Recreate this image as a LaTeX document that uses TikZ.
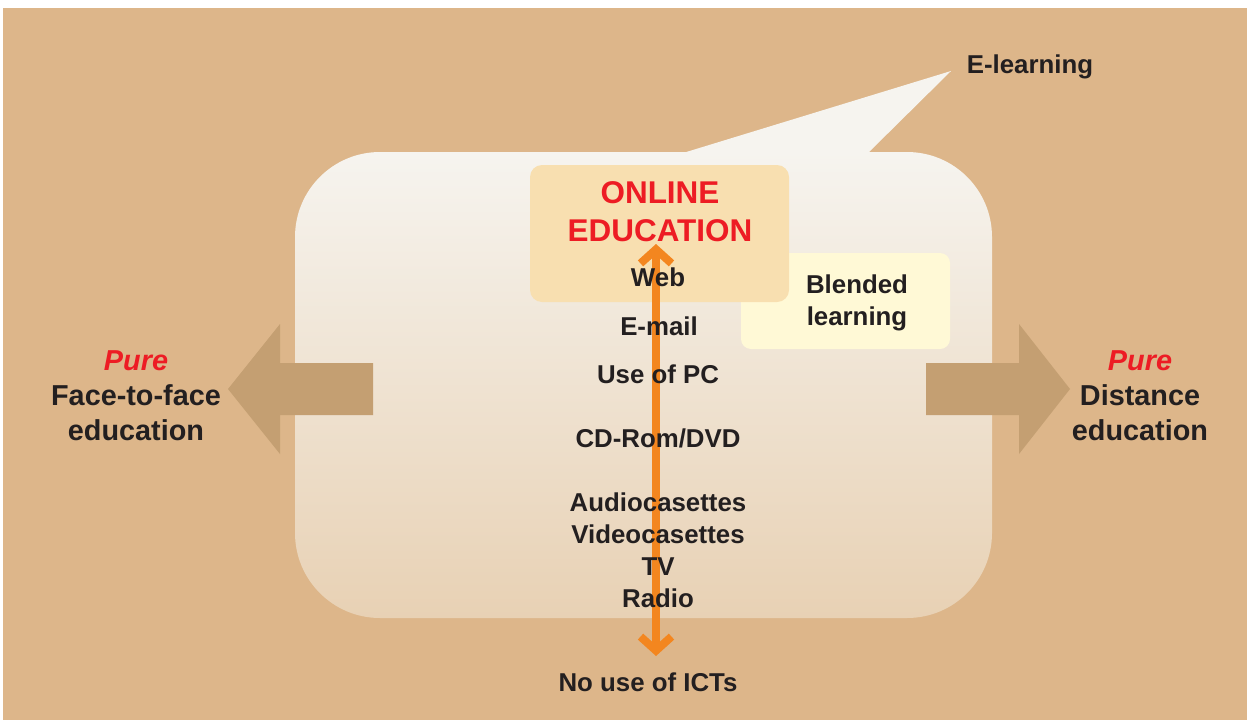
\documentclass[tikz,border=0pt]{standalone}
\usepackage{fontspec}
\setmainfont{Liberation Sans}
\usepackage{tikz}
\usetikzlibrary{arrows.meta}
\definecolor{tanbg}{HTML}{DDB68A}
\definecolor{bubtop}{HTML}{F6F4EF}
\definecolor{bubbot}{HTML}{E8D1B4}
\definecolor{onlinefill}{HTML}{F8DFB0}
\definecolor{blendfill}{HTML}{FFF9D6}
\definecolor{sidearrow}{HTML}{C49F72}
\definecolor{ictorange}{HTML}{F3861F}
\definecolor{redtxt}{HTML}{ED1C24}
\definecolor{ink}{HTML}{231F20}

\begin{document}
\begin{tikzpicture}[x=0.02cm,y=-0.02cm,
    txt/.style={anchor=base,inner sep=0pt,text=ink,font=\fontsize{14.7}{17}\selectfont\bfseries},
    sidetxt/.style={txt,font=\fontsize{16.4}{19}\selectfont\bfseries},
    puretxt/.style={txt,text=redtxt,font=\fontsize{16.4}{19}\selectfont\bfseries\itshape},
    titletxt/.style={txt,text=redtxt,font=\fontsize{17.9}{21}\selectfont\bfseries},
    ictline/.style={line width=0.16cm,ictorange,
        {Straight Barb[length=0.28cm,width=0.62cm]}-{Straight Barb[length=0.28cm,width=0.62cm]}}]
        \pgfmathsetmacro{\ay}{389}
        \pgfmathsetmacro{\bh}{26}
        \pgfmathsetmacro{\hh}{65}
        \fill[white] (0,0) rectangle (1247,720);
        \fill[tanbg] (3,8) rectangle (1247,720);
        \useasboundingbox (0,0) rectangle (1247,720);
        \coordinate (T1) at (683,153);
        \coordinate (T2) at (951,71);
        \coordinate (T3) at (868,153);
        \fill[bubtop] (T1) -- (T2) -- (T3) -- cycle;
        \shade[top color=bubtop, bottom color=bubbot, rounded corners=1.7cm]
            (295,152) rectangle (992,618);
        \fill[blendfill, rounded corners=0.2cm] (741,253) rectangle (950,349);
        \fill[onlinefill, rounded corners=0.24cm] (530,165) rectangle (789,302);
        \fill[sidearrow] (373,\ay-\bh) -- (280,\ay-\bh) -- (280,\ay-\hh) -- (228,\ay)
            -- (280,\ay+\hh) -- (280,\ay+\bh) -- (373,\ay+\bh) -- cycle;
        \fill[sidearrow] (926,\ay-\bh) -- (1019,\ay-\bh) -- (1019,\ay-\hh) -- (1070,\ay)
            -- (1019,\ay+\hh) -- (1019,\ay+\bh) -- (926,\ay+\bh) -- cycle;
        \coordinate (up) at (656,244);
        \coordinate (dn) at (656,656);
        \draw[ictline] (dn) -- (up);
        \node[txt] (elearn) at (1030,73) {E-learning};
        \node[titletxt] (online) at (660,203) {ONLINE};
        \node[titletxt] (educ) at (660,241) {EDUCATION};
        \node[txt] (web) at (658,286) {Web};
        \node[txt] (email) at (659,335) {E-mail};
        \node[txt] (pc) at (658,383) {Use of PC};
        \node[txt] (cdrom) at (658,447) {CD-Rom/DVD};
        \node[txt] (audio) at (658,511) {Audiocasettes};
        \node[txt] (video) at (658,543) {Videocasettes};
        \node[txt] (tv) at (658,575) {TV};
        \node[txt] (radio) at (658,607) {Radio};
        \node[txt] (noict) at (648,691) {No use of ICTs};
        \node[txt] (blend) at (857,293) {Blended};
        \node[txt] (learn) at (857,325) {learning};
        \node[puretxt] (pureL) at (136,370) {Pure};
        \node[sidetxt] (face) at (136,405) {Face-to-face};
        \node[sidetxt] (educL) at (136,440) {education};
        \node[puretxt] (pureR) at (1140,370) {Pure};
        \node[sidetxt] (dist) at (1140,405) {Distance};
        \node[sidetxt] (educR) at (1140,440) {education};
    \end{tikzpicture}
\end{document}
